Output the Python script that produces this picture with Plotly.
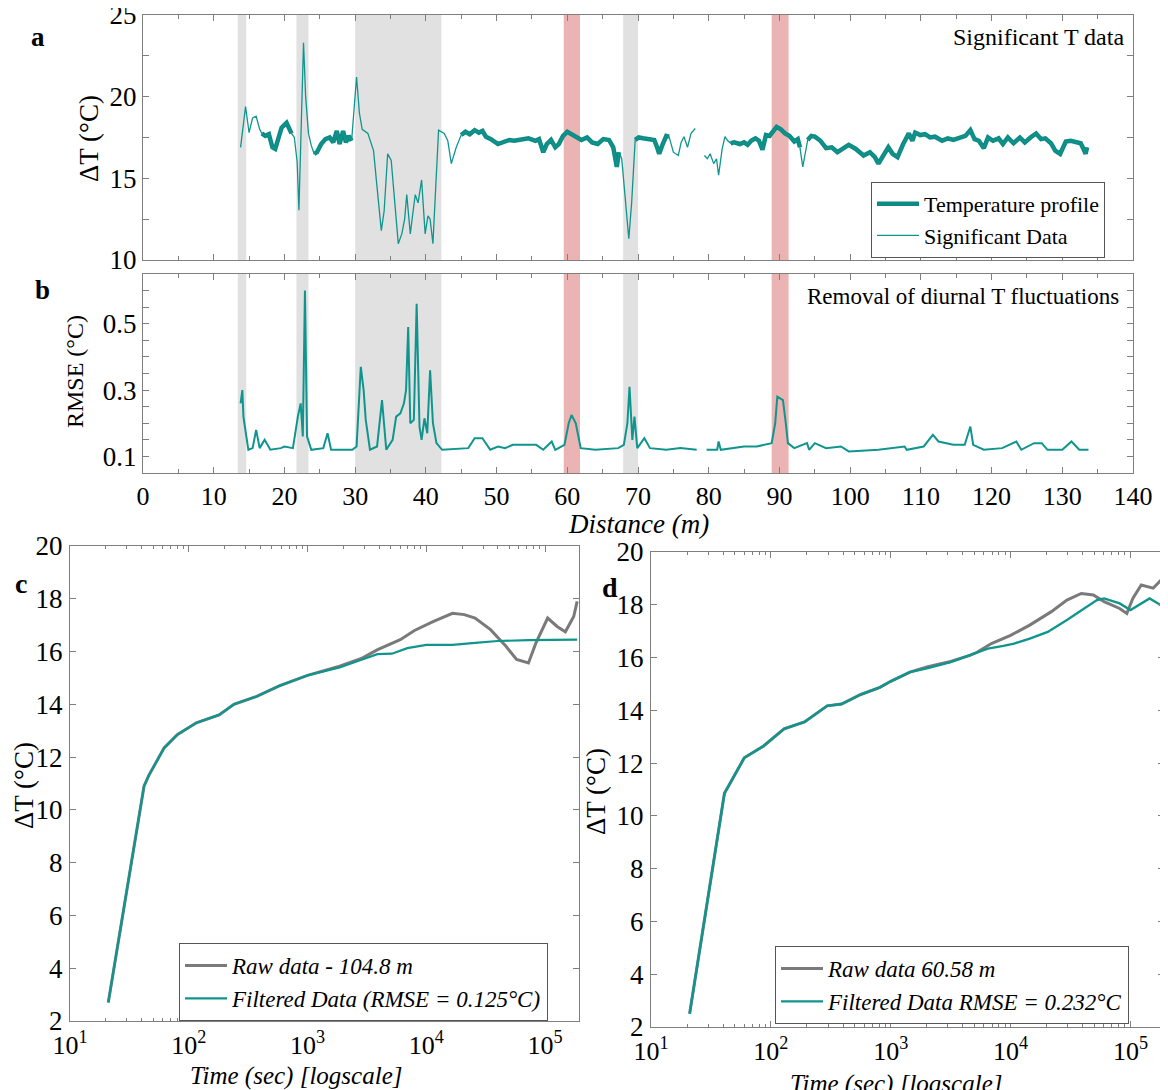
import plotly.graph_objects as go

# ---------------- Panel a: temperature profile ----------------
dist_a = [13.8, 14.5, 15.0, 15.5, 16.0, 16.5, 16.8, 17.3, 17.8, 18.3, 18.7, 19.2, 19.6, 20.3, 20.7, 21.0,
          21.4, 21.8, 22.05, 22.3, 22.7, 23.0, 23.4, 23.8, 24.2,
          24.6, 25.2, 25.8, 26.4, 26.9, 27.4, 27.8, 28.3, 28.7, 29.1, 29.5,
          30.2, 30.6, 31.0, 31.8, 32.6, 33.2, 33.7, 34.1, 34.6, 35.1, 35.6, 36.1, 36.6, 37.0, 37.3, 37.8,
          38.2, 38.5, 38.9, 39.4, 39.9, 40.3, 40.6, 41.0, 41.4, 41.8, 42.6, 43.1, 43.6, 44.3, 45.0,
          45.6, 46.2, 46.9, 47.5, 48.0, 48.5, 49.2, 50.2, 51.0, 51.8, 52.5, 53.5, 54.5, 55.5, 56.0, 56.6,
          57.1, 57.7, 58.3, 58.8, 59.4, 60.0, 60.7, 61.3, 62.0, 62.8, 63.5, 64.3, 65.1, 65.9, 66.5, 67.0, 67.3,
          67.7, 68.2, 68.7, 69.1, 69.6,
          70.1, 70.7, 71.5, 72.3, 72.7, 73.0, 73.5, 74.0, 74.4,
          75.0, 75.7, 76.1, 76.5, 77.0, 77.5, 78.1, 78.7,
          79.4, 79.8, 80.2, 80.7, 81.1, 81.4, 81.9, 82.3, 82.7, 83.1,
          83.6, 84.4, 85.0, 85.5, 86.0, 86.6, 87.1, 87.6, 88.1, 88.6, 89.1, 89.6, 90.2, 90.8, 91.4, 92.1, 92.6, 92.9,
          93.3, 93.7, 94.0,
          94.5, 95.0, 95.8, 96.6, 97.4, 98.2, 99.0, 99.8, 100.8, 101.9, 102.8, 103.5, 104.0, 104.7, 105.4, 106.0,
          106.7, 107.5, 108.3, 108.8, 109.2, 109.9, 110.6, 111.3, 112.0, 113.0, 113.8, 114.6, 115.5, 116.3, 117.0,
          117.6, 118.2, 118.9, 119.5, 120.2, 121.0, 121.6, 122.3, 123.1, 124.0, 124.7, 125.5, 126.3, 127.0, 127.6,
          128.4, 129.0, 129.7, 130.5, 131.2, 132.0, 132.6, 133.0, 133.3, 133.5]
temp_a = [16.9, 19.4, 17.8, 18.7, 18.8, 18.0, 17.75, 17.6, 17.7, 16.9, 16.8, 17.5, 18.1, 18.4, 18.1, 17.75,
          17.5, 16.0, 13.05, 17.0, 23.3, 20.0, 17.75, 17.0, 16.5,
          16.6, 17.1, 17.4, 17.5, 17.2, 17.9, 17.1, 17.9, 17.2, 17.6, 17.3,
          21.2, 19.0, 18.0, 17.75, 16.7, 14.0, 11.8, 13.0, 16.5, 16.1, 13.5, 11.0, 11.6, 12.5, 14.0, 11.6,
          13.0, 14.0, 13.5, 14.9, 11.6, 12.7, 12.5, 11.0, 14.5, 17.95, 17.75, 17.3, 15.9, 16.9, 17.65,
          17.85, 17.7, 17.95, 17.8, 17.9, 17.55, 17.4, 17.1, 17.2, 17.35, 17.3, 17.4, 17.45, 17.3, 17.4, 16.6,
          17.1, 17.35, 16.9, 17.1, 17.6, 17.85, 17.7, 17.5, 17.35, 17.5, 17.2, 17.1, 17.4, 17.35, 16.9, 15.7, 16.6,
          16.2, 13.5, 11.3, 13.5, 17.35,
          17.5, 17.45, 17.4, 17.35, 16.9, 16.5, 17.1, 17.6, 17.55,
          16.6, 16.4, 17.2, 17.55, 16.9, 17.75, 18.05, None,
          16.4, 16.2, 16.5, 15.9, 16.2, 15.2, 16.8, 17.55, 17.3, 17.15,
          17.2, 17.1, 17.2, 17.05, 17.3, 17.45, 17.3, 16.75, 17.65, 17.6, 17.9, 18.15, 18.0, 17.75, 17.6, 17.25, 17.4, 16.9,
          15.7, 16.7, 17.35,
          17.6, 17.55, 17.3, 16.85, 16.9, 16.6, 16.8, 17.05, 16.8, 16.4, 16.6, 16.3, 15.9, 16.4, 16.9, 16.5,
          16.3, 17.1, 17.75, 17.3, 17.8, 17.65, 17.7, 17.5, 17.55, 17.3, 17.45, 17.35, 17.5, 17.6, 17.95,
          17.4, 17.3, 16.85, 17.5, 17.3, 17.45, 17.1, 17.5, 17.15, 17.5, 17.2, 17.5, 17.75, 17.4, 17.45,
          17.15, 16.7, 16.5, 17.25, 17.3, 17.2, 17.15, 16.8, 16.5, 16.9]
# 1 = part of the (non-significant) temperature profile, drawn thick
profile_flag = [0, 0, 0, 0, 0, 0, 1, 1, 1, 1, 1, 1, 1, 1, 1, 1,
                0, 0, 0, 0, 0, 0, 0, 0, 1,
                1, 1, 1, 1, 1, 1, 1, 1, 1, 1, 1,
                0, 0, 0, 0, 0, 0, 0, 0, 0, 0, 0, 0, 0, 0, 0, 0,
                0, 0, 0, 0, 0, 0, 0, 0, 0, 0, 0, 0, 0, 0, 1,
                1, 1, 1, 1, 1, 1, 1, 1, 1, 1, 1, 1, 1, 1, 1, 1,
                1, 1, 1, 1, 1, 1, 1, 1, 1, 1, 1, 1, 1, 1, 1, 1, 1,
                0, 0, 0, 0, 1,
                1, 1, 1, 1, 1, 1, 1, 1, 1,
                0, 0, 0, 0, 0, 0, 0, 0,
                0, 0, 0, 0, 0, 0, 0, 0, 0, 1,
                1, 1, 1, 1, 1, 1, 1, 1, 1, 1, 1, 1, 1, 1, 1, 1, 1, 1,
                0, 0, 1,
                1, 1, 1, 1, 1, 1, 1, 1, 1, 1, 1, 1, 1, 1, 1, 1,
                1, 1, 1, 1, 1, 1, 1, 1, 1, 1, 1, 1, 1, 1, 1,
                1, 1, 1, 1, 1, 1, 1, 1, 1, 1, 1, 1, 1, 1, 1,
                1, 1, 1, 1, 1, 1, 1, 1, 1, 1]

# ---------------- Panel b: RMSE ----------------
dist_b = [13.8, 14.05, 14.2, 14.4, 14.6, 14.9, 15.5, 16.0, 16.5, 17.2, 18.0, 19.5, 20.0, 21.2, 21.9, 22.3, 22.6,
          22.9, 23.2, 23.8, 25.5, 26.1, 26.6, 29.6, 30.2, 30.8, 31.2, 31.5, 32.1, 33.1, 33.8, 34.4, 35.3, 35.8,
          36.4, 36.9, 37.2, 37.5, 37.8, 38.3, 38.7, 39.1, 39.4, 39.8, 40.2, 40.6, 41.0, 41.5, 42.3, 46.0, 46.9,
          48.0, 49.1, 50.2, 51.2, 52.3, 55.6, 56.6, 57.8, 58.3, 59.6, 60.2, 60.6, 61.2, 61.9, 64.0, 67.2, 68.0,
          68.5, 68.8, 69.2, 69.5, 69.9, 70.9, 71.7, 74.0, 76.0, 78.3, 79.0, 79.7, 81.2, 81.4, 81.7, 85.0, 86.8,
          88.9, 89.4, 89.7, 90.5, 90.9, 91.2, 92.1, 93.9, 94.2, 95.0, 96.6, 98.7, 99.8, 104.0, 107.7, 108.0,
          110.4, 111.7, 112.5, 114.6, 116.2, 117.0, 117.4, 118.9, 121.5, 123.5, 124.2, 126.0, 127.1, 127.9,
          130.0, 131.3, 132.4, 133.7]
rmse_b = [0.26, 0.30, 0.22, 0.19, 0.15, 0.12, 0.125, 0.18, 0.125, 0.15, 0.12, 0.125, 0.13, 0.125, 0.22, 0.26, 0.16,
          0.60, 0.16, 0.12, 0.125, 0.17, 0.12, 0.12, 0.13, 0.37, 0.30, 0.21, 0.12, 0.13, 0.27, 0.12, 0.15, 0.22,
          0.23, 0.26, 0.30, 0.49, 0.20, 0.21, 0.56, 0.19, 0.15, 0.215, 0.17, 0.36, 0.20, 0.14, 0.12, 0.125, 0.155,
          0.155, 0.12, 0.13, 0.125, 0.135, 0.135, 0.12, 0.145, 0.12, 0.135, 0.20, 0.225, 0.20, 0.125, 0.12, 0.125, 0.135,
          0.20, 0.31, 0.15, 0.22, 0.125, 0.155, 0.125, 0.12, 0.125, 0.12, None, 0.12, 0.12, 0.145, 0.12, 0.13, 0.13,
          0.14, 0.20, 0.28, 0.27, 0.20, 0.14, 0.125, 0.14, 0.12, 0.14, 0.125, 0.13, 0.115, 0.12, 0.13, 0.12,
          0.13, 0.165, 0.145, 0.135, 0.135, 0.19, 0.135, 0.12, 0.125, 0.145, 0.12, 0.14, 0.14, 0.12,
          0.12, 0.145, 0.12, 0.12]

# Shaded zones (distance, m)
grey_zones = [(13.4, 14.6), (21.7, 23.4), (30.0, 42.2), (67.9, 70.0)]
red_zones = [(59.5, 61.8), (88.9, 91.3)]

# ---------------- Panel c: 104.8 m ----------------
time_c_filt = [21, 42, 46, 62, 80, 116, 180, 240, 373, 578, 1000, 1862, 2884, 3864, 5129, 6918, 10000,
               16600, 25700, 39800, 72400, 186000]
temp_c_filt = [2.7, 10.9, 11.3, 12.35, 12.85, 13.3, 13.6, 14.0, 14.3, 14.7, 15.1, 15.4, 15.7, 15.9, 15.92,
               16.13, 16.25, 16.25, 16.33, 16.4, 16.43, 16.45]
time_c_raw = [21, 42, 46, 62, 80, 116, 180, 240, 373, 578, 1000, 1862, 2884, 3890, 6030, 7940, 11500, 16600,
              20900, 25700, 34700, 46800, 57500, 72400, 83200, 105000, 126000, 148000, 174000, 186000]
temp_c_raw = [2.7, 10.9, 11.3, 12.35, 12.85, 13.3, 13.6, 14.0, 14.3, 14.7, 15.1, 15.45, 15.75, 16.07, 16.45,
              16.8, 17.14, 17.45, 17.4, 17.27, 16.83, 16.2, 15.7, 15.57, 16.3, 17.27, 16.95, 16.75, 17.33, 17.9]

# ---------------- Panel d: 60.58 m ----------------
time_d_filt = [21, 41, 44, 60, 87, 129, 191, 295, 389, 562, 813, 1000, 1445, 2042, 3162, 4571, 6457, 8710,
               10700, 14450, 20420, 29510, 38900, 52500, 60300, 81300, 100000, 123000, 144500, 170000, 186000]
temp_d_filt = [2.5, 10.86, 11.1, 12.2, 12.65, 13.3, 13.56, 14.17, 14.24, 14.6, 14.87, 15.1, 15.45, 15.6, 15.83,
               16.08, 16.34, 16.44, 16.53, 16.72, 16.97, 17.42, 17.8, 18.18, 18.24, 18.05, 17.8, 18.05, 18.24,
               18.05, 17.93]
time_d_raw = [21, 41, 44, 60, 87, 129, 191, 295, 389, 562, 813, 1000, 1445, 2042, 3162, 4571, 5250, 6918,
              10000, 14450, 21900, 29510, 38900, 49000, 60300, 81300, 93300, 104700, 123000, 155000, 186000]
temp_d_raw = [2.5, 10.86, 11.1, 12.2, 12.65, 13.3, 13.56, 14.17, 14.24, 14.6, 14.87, 15.1, 15.45, 15.65, 15.85,
              16.08, 16.2, 16.53, 16.84, 17.23, 17.74, 18.18, 18.43, 18.37, 18.12, 17.86, 17.67, 18.24, 18.75,
              18.63, 19.0]

log_ticks = [10, 100, 1000, 10000, 100000]
log_ticktext = ["10<sup>1</sup>", "10<sup>2</sup>", "10<sup>3</sup>", "10<sup>4</sup>", "10<sup>5</sup>"]

# ---------------- styling ----------------
TEAL = "#10958e"
TEAL_DARK = "#0e8a84"
GREY_RAW = "#7a7a7a"
FONT = "Liberation Serif"
FRAME = "#7f7f7f"
OFF = 8                 # page body margin of the html page
W, H = 1168 - OFF, 1090 - OFF

profile_thick = [t if (f == 1 and t is not None) else None for t, f in zip(temp_a, profile_flag)]

fig = go.Figure()

# Panel a
fig.add_trace(go.Scatter(x=dist_a, y=profile_thick, mode="lines", name="Temperature profile",
                         line=dict(color=TEAL_DARK, width=4.5), xaxis="x", yaxis="y",
                         legend="legend", connectgaps=False))
fig.add_trace(go.Scatter(x=dist_a, y=temp_a, mode="lines", name="Significant Data",
                         line=dict(color=TEAL, width=1.3), xaxis="x", yaxis="y",
                         legend="legend", connectgaps=False))
# Panel b
fig.add_trace(go.Scatter(x=dist_b, y=rmse_b, mode="lines", showlegend=False,
                         line=dict(color=TEAL, width=2), xaxis="x2", yaxis="y2", connectgaps=False))
# Panel c
fig.add_trace(go.Scatter(x=time_c_raw, y=temp_c_raw, mode="lines", name="<i>Raw data - 104.8 m</i>",
                         line=dict(color=GREY_RAW, width=3), xaxis="x3", yaxis="y3", legend="legend2"))
fig.add_trace(go.Scatter(x=time_c_filt, y=temp_c_filt, mode="lines",
                         name="<i>Filtered Data (RMSE = 0.125°C)</i>",
                         line=dict(color=TEAL, width=2.2), xaxis="x3", yaxis="y3", legend="legend2"))
# Panel d
fig.add_trace(go.Scatter(x=time_d_raw, y=temp_d_raw, mode="lines", name="<i>Raw data 60.58 m</i>",
                         line=dict(color=GREY_RAW, width=3), xaxis="x4", yaxis="y4", legend="legend3"))
fig.add_trace(go.Scatter(x=time_d_filt, y=temp_d_filt, mode="lines",
                         name="<i>Filtered Data RMSE = 0.232°C</i>",
                         line=dict(color=TEAL, width=2.4), xaxis="x4", yaxis="y4", legend="legend3"))

# Shaded zones in panels a and b
shapes = []
for yref in ("y domain", "y2 domain"):
    xref = "x" if yref == "y domain" else "x2"
    for x0, x1 in grey_zones:
        shapes.append(dict(type="rect", xref=xref, yref=yref, x0=x0, x1=x1, y0=0, y1=1,
                           fillcolor="#e1e1e1", line=dict(width=0), layer="below"))
    for x0, x1 in red_zones:
        shapes.append(dict(type="rect", xref=xref, yref=yref, x0=x0, x1=x1, y0=0, y1=1,
                           fillcolor="#e9b4b1", line=dict(width=0), layer="below"))


def px_x(p):
    return (p - OFF) / W


def px_y(p):
    return 1 - (p - OFF) / H


common_axis = dict(showline=True, linecolor=FRAME, linewidth=1, mirror="ticks", ticks="inside",
                   tickcolor=FRAME, showgrid=False, zeroline=False, automargin=False,
                   ticklabeloverflow="allow",
                   tickfont=dict(family=FONT, size=27, color="black"))

dom_ab_x = [px_x(143), px_x(1133)]
minor_log = [m * 10 ** k for k in range(1, 6) for m in range(2, 10)]

layout = dict(
    width=W, height=H, autosize=False,
    margin=dict(l=0, r=0, t=0, b=0, pad=0, autoexpand=False),
    paper_bgcolor="white", plot_bgcolor="white",
    font=dict(family=FONT, color="black"),
    shapes=shapes,
    xaxis=dict(common_axis, domain=dom_ab_x, anchor="y", range=[0, 140], dtick=10, ticklen=6,
               showticklabels=False, minor=dict(dtick=5, ticks="inside", ticklen=4, tickcolor=FRAME)),
    yaxis=dict(common_axis, domain=[px_y(260), px_y(15)], anchor="x", range=[10, 25],
               tickvals=[10, 15, 20, 25], ticklen=6, ticklabelstandoff=0,
               tickfont=dict(family=FONT, size=27, color="black"),
               minor=dict(dtick=2.5, tick0=10, ticks="inside", ticklen=6, tickcolor=FRAME)),
    xaxis2=dict(common_axis, domain=dom_ab_x, anchor="y2", range=[0, 140], dtick=10, ticklen=6,
                ticklabelstandoff=0, tickfont=dict(family=FONT, size=26, color="black"),
                minor=dict(dtick=5, ticks="inside", ticklen=4, tickcolor=FRAME)),
    yaxis2=dict(common_axis, domain=[px_y(473), px_y(274)], anchor="x2", range=[0.05, 0.65],
                tickvals=[0.1, 0.3, 0.5], ticktext=["0.1", "0.3", "0.5"], ticklen=6, ticklabelstandoff=0,
                tickfont=dict(family=FONT, size=27, color="black"),
                minor=dict(dtick=0.05, tick0=0.05, ticks="inside", ticklen=6, tickcolor=FRAME)),
    xaxis3=dict(common_axis, domain=[px_x(70), px_x(579)], anchor="y3", type="log", range=[1, 5.285],
                tickvals=log_ticks, ticktext=log_ticktext, ticklen=6, ticklabelstandoff=1,
                tickfont=dict(family=FONT, size=26, color="black"),
                minor=dict(tickvals=minor_log, ticks="inside", ticklen=3, tickcolor=FRAME)),
    yaxis3=dict(common_axis, domain=[px_y(1021), px_y(546)], anchor="x3", range=[2, 20],
                dtick=2, ticklen=6, ticklabelstandoff=1),
    xaxis4=dict(common_axis, domain=[px_x(651), px_x(1164)], anchor="y4", type="log", range=[1, 5.28],
                tickvals=log_ticks, ticktext=log_ticktext, ticklen=6, ticklabelstandoff=1,
                tickfont=dict(family=FONT, size=26, color="black"),
                minor=dict(tickvals=minor_log, ticks="inside", ticklen=3, tickcolor=FRAME)),
    yaxis4=dict(common_axis, domain=[px_y(1027), px_y(552)], anchor="x4", range=[2, 20],
                dtick=2, ticklen=6, ticklabelstandoff=1),
    legend=dict(x=px_x(871), y=px_y(182), xanchor="left", yanchor="top",
                bgcolor="white", bordercolor="#555", borderwidth=1,
                font=dict(family=FONT, size=22, color="black"), tracegroupgap=0,
                itemwidth=42, traceorder="normal"),
    legend2=dict(x=px_x(179), y=px_y(943), xanchor="left", yanchor="top",
                 bgcolor="white", bordercolor="#555", borderwidth=1,
                 font=dict(family=FONT, size=23, color="black"), tracegroupgap=0,
                 itemwidth=42, traceorder="normal"),
    legend3=dict(x=px_x(775), y=px_y(946), xanchor="left", yanchor="top",
                 bgcolor="white", bordercolor="#555", borderwidth=1,
                 font=dict(family=FONT, size=23, color="black"), tracegroupgap=0,
                 itemwidth=42, traceorder="normal"),
)


def note(text, x, y, size, angle=0, xanchor="center"):
    return dict(text=text, x=px_x(x), y=px_y(y), xref="paper", yref="paper", showarrow=False,
                xanchor=xanchor, yanchor="middle", textangle=angle,
                font=dict(family=FONT, size=size, color="black"))


annotations = [
    note("<b>a</b>", 38, 37, 27),
    note("<b>b</b>", 42, 290, 27),
    note("<b>c</b>", 21, 583, 28),
    note("<b>d</b>", 610, 587, 28),
    note("Significant T data", 1126, 37, 24, xanchor="right"),
    note("Removal of diurnal T fluctuations", 1121, 297, 23, xanchor="right"),
    note("ΔT (°C)", 89, 139, 27, angle=-90),
    note("RMSE (°C)", 75, 372, 24, angle=-90),
    note("<i>Distance (m)</i>", 638, 524, 27),
    note("ΔT (°C)", 24, 786, 27, angle=-90),
    note("ΔT (°C)", 596, 792, 27, angle=-90),
    note("<i>Time (sec) [logscale]</i>", 296, 1076, 25),
    note("<i>Time (sec) [logscale]</i>", 896, 1084, 25),
]
layout["annotations"] = annotations

fig.update_layout(**layout)
fig.write_html("out.html")
